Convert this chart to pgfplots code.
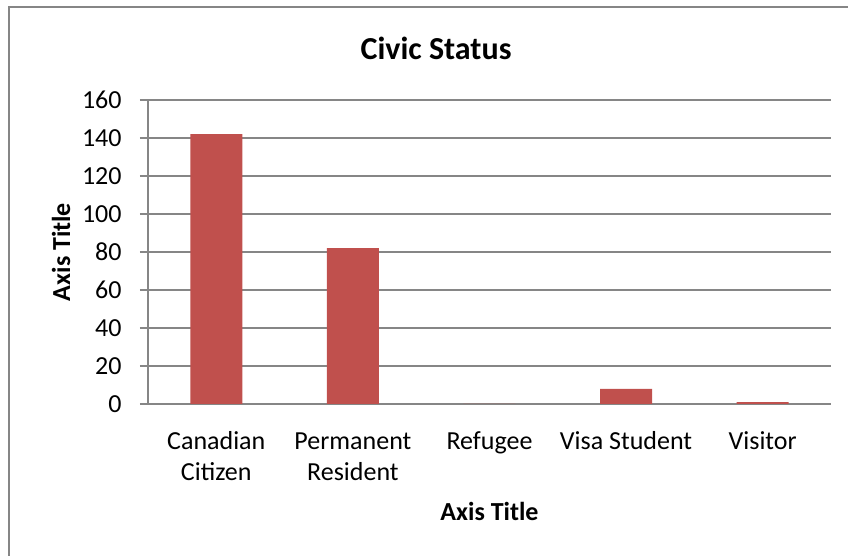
\documentclass[border=0pt]{standalone}
\usepackage{fontspec}
\setmainfont{Carlito}
\usepackage{pgfplots}
\pgfplotsset{compat=1.18}
\definecolor{barred}{HTML}{C0504D}
\definecolor{gridgray}{HTML}{868686}
\begin{document}
\begin{tikzpicture}
\useasboundingbox (0,0) rectangle (424pt,278pt);
\draw[gridgray, line width=1pt] (4.25pt,0) -- (4.25pt,274.5pt) -- (424pt,274.5pt);
\begin{axis}[
  at={(74pt,76pt)}, anchor=south west,
  scale only axis, width=341.5pt, height=152pt,
  xmin=-0.5, xmax=4.5, ymin=0, ymax=160,
  ytick={0,20,...,160},
  xtick={0,1,2,3,4},
  xticklabels={{\strut Canadian\\Citizen},{\strut Permanent\\Resident},{\strut Refugee\\\mbox{}},{\strut Visa Student\\\mbox{}},{\strut Visitor\\\mbox{}}},
  axis x line*=bottom, axis y line*=left,
  axis line style={gridgray, line width=0.6pt, -},
  ymajorgrids, grid style={gridgray, line width=0.6pt},
  tick align=outside, major tick length=4pt,
  ytick style={gridgray, line width=0.6pt},
  xtick style={draw=none},
  /pgf/number format/assume math mode=true,
  ticklabel style={font=\fontsize{13}{15.5}\selectfont, text=black},
  xticklabel style={align=center, anchor=north, inner sep=0pt, yshift=-7.65pt},
  yticklabel style={anchor=east, inner sep=0pt, xshift=-9pt},
  title={Civic Status},
  title style={at={(axis description cs:0.4217,1.0944)}, anchor=base, font=\bfseries\fontsize{16}{19}\selectfont},
  xlabel={Axis Title}, ylabel={Axis Title},
  xlabel style={at={(axis description cs:0.5,-0.3816)}, anchor=base, font=\bfseries\fontsize{13}{15.5}\selectfont},
  ylabel style={at={(axis description cs:-0.1142,0.5)}, anchor=base, rotate=0, font=\bfseries\fontsize{13}{15.5}\selectfont},
  clip=false,
]
\addplot[ybar, bar width=26pt, fill=barred, draw=none]
  coordinates {(0,142) (1,82) (2,0) (3,8) (4,1)};
\end{axis}
\end{tikzpicture}
\end{document}
